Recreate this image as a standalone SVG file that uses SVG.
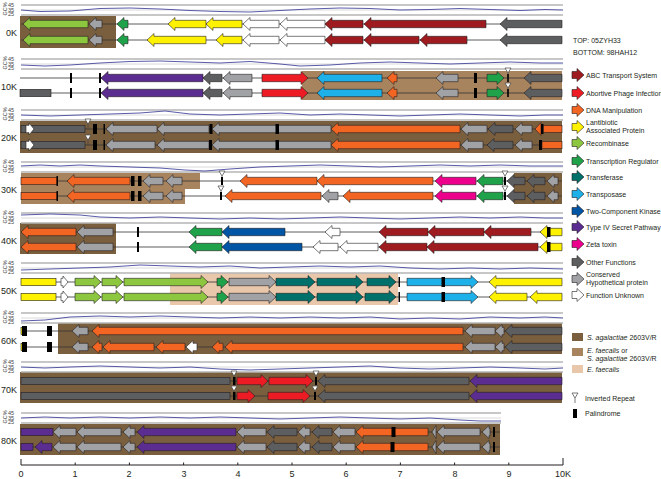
<svg xmlns="http://www.w3.org/2000/svg" xmlns:xlink="http://www.w3.org/1999/xlink" width="661" height="479" viewBox="0 0 661 479">
<style>
.g path,.g rect.gn{stroke:#231f20;stroke-width:.6}
.abc{fill:#9e1b20}.abo{fill:#ed1c24}.dna{fill:#f26522}.lan{fill:#fff200}.rec{fill:#8dc63f}.trr{fill:#1fa24a}.tsf{fill:#00706b}.tsp{fill:#1eb0e8}.tck{fill:#0055a5}.t4s{fill:#5c2d91}.zet{fill:#ec008c}.oth{fill:#5d5e60}.chp{fill:#a0a2a5}.unk{fill:#fff}
.pal{fill:#000}
.bb{stroke:#333;stroke-width:.8}
.gcl{stroke:#b5b5b5;stroke-width:1.3}
.gcm{stroke:#d0d0d0;stroke-width:.8}
.gcw{fill:none;stroke:#2e3192;stroke-width:.8}
.dk{fill:#7a5f3f}.md{fill:#a8845e}.tn{fill:#e8c7ab}
text{font-family:"Liberation Sans",Arial,sans-serif;fill:#231f20}
.rl{font-size:9px;text-anchor:end}
.gt{font-size:5.5px;fill:#444}
.lg{font-size:7px}
.ax{font-size:9px;text-anchor:middle}
</style>
<defs>
<g id="ir"><path d="M-3 -10H3L0 -5ZM0 -5V0" fill="#fff" stroke="#444" stroke-width=".7"/></g>
<g id="gclab"><text class="gt" transform="translate(6.5,-1) rotate(-90)" text-anchor="middle" font-size="6.5">GC%</text><text class="gt" x="8" y="-3.3">45</text><text class="gt" x="8" y="1.7">35</text><text class="gt" x="8" y="6.2">25</text></g>
</defs>
<rect width="661" height="479" fill="#fff"/>

<!-- bands -->
<g id="bands">
<rect class="dk" x="20" y="16" width="96" height="32"/>
<rect class="md" x="302" y="71" width="260" height="29"/>
<rect class="dk" x="20" y="121" width="542" height="32"/>
<path class="md" d="M21 173H200V189H185V204H21Z"/>
<rect class="dk" x="514" y="173" width="48" height="31"/>
<rect class="dk" x="20" y="223" width="96" height="31"/>
<rect class="tn" x="170" y="273" width="228" height="32"/>
<rect class="dk" x="58" y="323" width="504" height="31"/>
<rect class="dk" x="20" y="372" width="542" height="31"/>
<rect class="dk" x="20" y="424" width="480" height="31"/>
</g>

<!-- GC content tracks -->
<g id="gc">
<g transform="translate(0,10)"><line class="gcl" x1="21" y1="-5" x2="563" y2="-5"/><line class="gcm" x1="21" y1="0" x2="563" y2="0"/><line class="gcl" x1="21" y1="5" x2="563" y2="5"/><polyline class="gcw" points="21,0 40,1.5 70,1 100,-1.5 130,-2 160,-1 190,0.5 220,1.5 250,2 280,0.5 310,-1 340,-2 370,-1.5 400,0 430,-0.5 460,-1.5 490,-0.5 520,0.5 545,-0.5 563,0"/><use xlink:href="#gclab"/></g>
<g transform="translate(0,64)"><line class="gcl" x1="21" y1="-5" x2="563" y2="-5"/><line class="gcm" x1="21" y1="0" x2="563" y2="0"/><line class="gcl" x1="21" y1="5" x2="563" y2="5"/><polyline class="gcw" points="21,1 45,2 70,1 100,-1 130,-2.5 160,-3 190,-2 220,-1 250,-2.5 280,0 300,2 330,1 360,-1 390,-2 420,-1 450,0 480,-1 510,-2 540,-1 563,-1"/><use xlink:href="#gclab"/></g>
<g transform="translate(0,115)"><line class="gcl" x1="21" y1="-5" x2="563" y2="-5"/><line class="gcm" x1="21" y1="0" x2="563" y2="0"/><line class="gcl" x1="21" y1="5" x2="563" y2="5"/><polyline class="gcw" points="21,0 50,1 80,0 110,-1 140,-2 165,-4 190,-1 220,0 250,-1 280,-2 310,0 340,-1 370,0 400,1 430,0 460,-1 490,0 520,1 545,0 563,0"/><use xlink:href="#gclab"/></g>
<g transform="translate(0,167)"><line class="gcl" x1="21" y1="-5" x2="563" y2="-5"/><line class="gcm" x1="21" y1="0" x2="563" y2="0"/><line class="gcl" x1="21" y1="5" x2="563" y2="5"/><polyline class="gcw" points="21,-1 40,-2 60,-1 80,-2 100,-1 130,0 160,1 185,3 205,4 230,2 260,0 290,-1 320,-2 350,-1 380,0 410,-1 440,-2 470,-1 500,-2 530,-1 563,-1"/><use xlink:href="#gclab"/></g>
<g transform="translate(0,218)"><line class="gcl" x1="21" y1="-5" x2="563" y2="-5"/><line class="gcm" x1="21" y1="0" x2="563" y2="0"/><line class="gcl" x1="21" y1="5" x2="563" y2="5"/><polyline class="gcw" points="21,-3 50,-4 80,-3 100,-1 130,0 160,-1 190,0 220,1 250,0 280,1 310,0 340,-1 370,0 400,1 430,0 460,-1 490,0 520,-1 545,0 563,0"/><use xlink:href="#gclab"/></g>
<g transform="translate(0,268)"><line class="gcl" x1="21" y1="-5" x2="563" y2="-5"/><line class="gcm" x1="21" y1="0" x2="563" y2="0"/><line class="gcl" x1="21" y1="5" x2="563" y2="5"/><polyline class="gcw" points="21,2 50,1 80,0 110,-1 140,-3 170,-2 200,-1 230,-2 260,0 290,-1 320,-2 350,-1 380,-2 410,0 440,1 470,0 500,1 530,0 563,1"/><use xlink:href="#gclab"/></g>
<g transform="translate(0,318)"><line class="gcl" x1="21" y1="-5" x2="563" y2="-5"/><line class="gcm" x1="21" y1="0" x2="563" y2="0"/><line class="gcl" x1="21" y1="5" x2="563" y2="5"/><polyline class="gcw" points="21,3 45,2 70,-1 100,-2 130,-1 160,-2 190,-1 220,0 250,-1 280,0 310,-1 340,0 370,-1 400,1 430,0 460,1 490,-1 520,0 545,-1 563,0"/><use xlink:href="#gclab"/></g>
<g transform="translate(0,367)"><line class="gcl" x1="21" y1="-5" x2="563" y2="-5"/><line class="gcm" x1="21" y1="0" x2="563" y2="0"/><line class="gcl" x1="21" y1="5" x2="563" y2="5"/><polyline class="gcw" points="21,0 45,1 70,0 100,-1 130,0 160,1 190,0 220,2 250,3 280,2 310,1 340,0 370,-1 400,1 430,2 460,1 490,0 520,1 545,2 563,1"/><use xlink:href="#gclab"/></g>
<g transform="translate(0,418)"><line class="gcl" x1="21" y1="-5" x2="501" y2="-5"/><line class="gcm" x1="21" y1="0" x2="501" y2="0"/><line class="gcl" x1="21" y1="5" x2="501" y2="5"/><polyline class="gcw" points="21,0 45,-1 70,0 100,-1 130,0 160,-1 190,0 220,-1 250,0 280,1 310,0 340,-1 370,0 400,1 430,0 460,2 480,3 501,3"/><use xlink:href="#gclab"/></g>
</g>

<!-- backbones -->
<g id="connectors">
<line class="bb" x1="21" y1="24" x2="562" y2="24"/><line class="bb" x1="21" y1="40" x2="562" y2="40"/>
<line class="bb" x1="20" y1="78" x2="562" y2="78"/><line class="bb" x1="20" y1="93" x2="562" y2="93"/>
<line class="bb" x1="21" y1="129" x2="562" y2="129"/><line class="bb" x1="21" y1="145" x2="562" y2="145"/>
<line class="bb" x1="21" y1="181" x2="562" y2="181"/><line class="bb" x1="21" y1="196" x2="562" y2="196"/>
<line class="bb" x1="21" y1="232" x2="562" y2="232"/><line class="bb" x1="21" y1="247" x2="562" y2="247"/>
<line class="bb" x1="21" y1="282" x2="562" y2="282"/><line class="bb" x1="21" y1="297" x2="562" y2="297"/>
<line class="bb" x1="21" y1="331" x2="562" y2="331"/><line class="bb" x1="21" y1="347" x2="562" y2="347"/>
<line class="bb" x1="21" y1="381" x2="562" y2="381"/><line class="bb" x1="21" y1="396" x2="562" y2="396"/>
<line class="bb" x1="21" y1="432" x2="500" y2="432"/><line class="bb" x1="21" y1="447" x2="500" y2="447"/>
</g>

<!-- Row 0K -->
<g id="row0" class="g">
<path class="rec" d="M23 24l7-6.5v2.8H88v7.4H30v2.8z"/>
<path class="chp" d="M89 24l7-6.5v2.8H102v7.4H96v2.8z"/>
<path class="trr" d="M117 24l7-6.5v2.8H128v7.4H124v2.8z"/>
<path class="lan" d="M168 24l7-6.5v2.8H206v7.4H175v2.8z"/>
<path class="lan" d="M206 24l7-6.5v2.8H242v7.4H213v2.8z"/>
<path class="unk" d="M243 24l7-6.5v2.8H279v7.4H250v2.8z"/>
<path class="unk" d="M280 24l7-6.5v2.8H325v7.4H287v2.8z"/>
<path class="abc" d="M325 24l7-6.5v2.8H363v7.4H332v2.8z"/>
<path class="abc" d="M364 24l7-6.5v2.8H486v7.4H371v2.8z"/>
<path class="oth" d="M500 24l7-6.5v2.8H562v7.4H507v2.8z"/>
<path class="rec" d="M23 40l7-6.5v2.8H88v7.4H30v2.8z"/>
<path class="chp" d="M89 40l7-6.5v2.8H102v7.4H96v2.8z"/>
<path class="trr" d="M117 40l7-6.5v2.8H128v7.4H124v2.8z"/>
<path class="lan" d="M147 40l7-6.5v2.8H206v7.4H154v2.8z"/>
<path class="lan" d="M216 40l7-6.5v2.8H242v7.4H223v2.8z"/>
<path class="unk" d="M243 40l7-6.5v2.8H279v7.4H250v2.8z"/>
<path class="unk" d="M280 40l7-6.5v2.8H325v7.4H287v2.8z"/>
<path class="abc" d="M325 40l7-6.5v2.8H363v7.4H332v2.8z"/>
<path class="abc" d="M364 40l7-6.5v2.8H419v7.4H371v2.8z"/>
<path class="abc" d="M420 40l7-6.5v2.8H467v7.4H427v2.8z"/>
<path class="oth" d="M500 40l7-6.5v2.8H562v7.4H507v2.8z"/>
<text class="rl" x="17" y="36">0K</text>
</g>

<!-- Row 10K -->
<g id="row10" class="g">
<rect class="pal" x="70" y="73" width="2" height="10"/><rect class="pal" x="99" y="73" width="2" height="10"/>
<path class="t4s" d="M101 78l7-6.5v2.8H203v7.4H108v2.8z"/>
<path class="oth" d="M203 78l7-6.5v2.8H222v7.4H210v2.8z"/>
<path class="chp" d="M223 78l7-6.5v2.8H252v7.4H230v2.8z"/>
<path class="abo" d="M308 78l-7-6.5v2.8H262v7.4H301v2.8z"/>
<path class="tsp" d="M317 78l7-6.5v2.8H382v7.4H324v2.8z"/>
<path class="dna" d="M387 78l7-6.5v2.8H397v7.4H394v2.8z"/>
<path class="chp" d="M436 78l7-6.5v2.8H458v7.4H443v2.8z"/>
<rect class="pal" x="474" y="73" width="3" height="10"/>
<path class="trr" d="M504 78l-7-6.5v2.8H487v7.4H497v2.8z"/>
<use xlink:href="#ir" x="508" y="78"/><rect class="pal" x="507.2" y="74" width="1.6" height="8"/>
<path class="oth" d="M524 78l7-6.5v2.8H562v7.4H531v2.8z"/>
<rect class="oth gn" x="20" y="89.3" width="31" height="7.4"/>
<rect class="pal" x="70" y="88" width="2" height="10"/><rect class="pal" x="99" y="88" width="2" height="10"/>
<path class="t4s" d="M101 93l7-6.5v2.8H203v7.4H108v2.8z"/>
<path class="oth" d="M203 93l7-6.5v2.8H222v7.4H210v2.8z"/>
<path class="chp" d="M223 93l7-6.5v2.8H252v7.4H230v2.8z"/>
<path class="abo" d="M308 93l-7-6.5v2.8H262v7.4H301v2.8z"/>
<path class="tsp" d="M317 93l7-6.5v2.8H382v7.4H324v2.8z"/>
<path class="dna" d="M387 93l7-6.5v2.8H397v7.4H394v2.8z"/>
<path class="chp" d="M436 93l7-6.5v2.8H458v7.4H443v2.8z"/>
<rect class="pal" x="474" y="88" width="3" height="10"/>
<path class="trr" d="M504 93l-7-6.5v2.8H487v7.4H497v2.8z"/>
<use xlink:href="#ir" x="508" y="93"/><rect class="pal" x="507.2" y="89" width="1.6" height="8"/>
<path class="oth" d="M524 93l7-6.5v2.8H562v7.4H531v2.8z"/>
<text class="rl" x="17" y="90">10K</text>
</g>

<!-- Row 20K -->
<g id="row20" class="g">
<rect class="oth gn" x="21" y="125.3" width="64" height="7.4"/>
<path class="unk" d="M34 129l-5-6v2.3H26v7.4H29v2.3z"/>
<use xlink:href="#ir" x="88" y="129"/>
<rect class="pal" x="93" y="124" width="4" height="10"/><rect class="pal" x="103.5" y="124" width="1.5" height="10"/>
<path class="chp" d="M106 129l7-6.5v2.8H157v7.4H113v2.8z"/>
<path class="chp" d="M157 129l7-6.5v2.8H209v7.4H164v2.8z"/>
<rect class="pal" x="209.5" y="124" width="3" height="10"/>
<path class="chp" d="M212 129l7-6.5v2.8H331v7.4H219v2.8z"/>
<rect class="pal" x="275.5" y="124" width="3.5" height="10"/>
<path class="dna" d="M331 129l7-6.5v2.8H460v7.4H338v2.8z"/>
<path class="chp" d="M461 129l7-6.5v2.8H487v7.4H468v2.8z"/>
<path class="oth" d="M488 129l7-6.5v2.8H513v7.4H495v2.8z"/>
<path class="chp" d="M515 129l7-6.5v2.8H532v7.4H522v2.8z"/>
<path class="dna" d="M535 129l6-6.5v13z"/>
<rect class="pal" x="541" y="124" width="2.5" height="10"/>
<rect class="dna gn" x="543.5" y="125.3" width="18.5" height="7.4"/>
<rect class="oth gn" x="21" y="141.3" width="64" height="7.4"/>
<path class="unk" d="M34 145l-5-6v2.3H26v7.4H29v2.3z"/>
<use xlink:href="#ir" x="88" y="145"/>
<rect class="pal" x="93" y="140" width="4" height="10"/><rect class="pal" x="103.5" y="140" width="1.5" height="10"/>
<path class="chp" d="M106 145l7-6.5v2.8H155v7.4H113v2.8z"/>
<path class="chp" d="M157 145l7-6.5v2.8H209v7.4H164v2.8z"/>
<rect class="pal" x="209" y="140" width="3" height="10"/>
<path class="chp" d="M212 145l7-6.5v2.8H331v7.4H219v2.8z"/>
<rect class="pal" x="275.5" y="140" width="3.5" height="10"/>
<path class="dna" d="M331 145l7-6.5v2.8H460v7.4H338v2.8z"/>
<path class="chp" d="M461 145l7-6.5v2.8H483v7.4H468v2.8z"/>
<path class="oth" d="M487 145l7-6.5v2.8H513v7.4H494v2.8z"/>
<path class="chp" d="M515 145l7-6.5v2.8H532v7.4H522v2.8z"/>
<rect class="pal" x="539" y="140" width="3" height="10"/>
<rect class="dna gn" x="542" y="141.3" width="20" height="7.4"/>
<text class="rl" x="17" y="141">20K</text>
</g>

<!-- Row 30K -->
<g id="row30" class="g">
<rect class="dna gn" x="21" y="177.3" width="36" height="7.4"/>
<rect class="pal" x="56.5" y="176" width="1.5" height="10"/>
<path class="dna" d="M67 181l7-6.5v2.8H130v7.4H74v2.8z"/>
<rect class="pal" x="131" y="176" width="3.5" height="10"/><rect class="pal" x="138" y="176" width="3.5" height="10"/>
<path class="chp" d="M143 181l7-6.5v2.8H163v7.4H150v2.8z"/>
<path class="chp" d="M166 181l7-6.5v2.8H182v7.4H173v2.8z"/>
<use xlink:href="#ir" x="222" y="181"/><rect class="pal" x="221" y="177" width="2" height="8"/>
<path class="dna" d="M240 181l7-6.5v2.8H317v7.4H247v2.8z"/>
<path class="dna" d="M317 181l7-6.5v2.8H433v7.4H324v2.8z"/>
<path class="zet" d="M435 181l7-6.5v2.8H476v7.4H442v2.8z"/>
<path class="trr" d="M477 181l7-6.5v2.8H503v7.4H484v2.8z"/>
<use xlink:href="#ir" x="505" y="181"/><rect class="pal" x="504" y="177" width="2" height="8"/>
<path class="oth" d="M507 181l7-6.5v2.8H525v7.4H514v2.8z"/>
<path class="oth" d="M527 181l7-6.5v2.8H545v7.4H534v2.8z"/>
<path class="chp" d="M547 181l7-6.5v2.8H558v7.4H554v2.8z"/>
<rect class="dna gn" x="21" y="192.3" width="36" height="7.4"/>
<rect class="pal" x="56.5" y="191" width="1.5" height="10"/>
<path class="dna" d="M67 196l7-6.5v2.8H130v7.4H74v2.8z"/>
<rect class="pal" x="131" y="191" width="3.5" height="10"/><rect class="pal" x="138" y="191" width="3.5" height="10"/>
<path class="chp" d="M143 196l7-6.5v2.8H163v7.4H150v2.8z"/>
<path class="chp" d="M166 196l7-6.5v2.8H182v7.4H173v2.8z"/>
<use xlink:href="#ir" x="221" y="196"/><rect class="pal" x="220" y="192" width="2" height="8"/>
<path class="dna" d="M225 196l7-6.5v2.8H321v7.4H232v2.8z"/>
<path class="chp" d="M322 196l7-6.5v2.8H338v7.4H329v2.8z"/>
<path class="dna" d="M343 196l7-6.5v2.8H433v7.4H350v2.8z"/>
<path class="zet" d="M435 196l7-6.5v2.8H476v7.4H442v2.8z"/>
<path class="trr" d="M477 196l7-6.5v2.8H503v7.4H484v2.8z"/>
<use xlink:href="#ir" x="505" y="196"/><rect class="pal" x="504" y="192" width="2" height="8"/>
<path class="oth" d="M507 196l7-6.5v2.8H525v7.4H514v2.8z"/>
<path class="oth" d="M527 196l7-6.5v2.8H545v7.4H534v2.8z"/>
<path class="chp" d="M547 196l7-6.5v2.8H558v7.4H554v2.8z"/>
<text class="rl" x="17" y="193">30K</text>
</g>

<!-- Row 40K -->
<g id="row40" class="g">
<path class="dna" d="M21 232l7-6.5v2.8H76v7.4H28v2.8z"/>
<path class="chp" d="M77 232l7-6.5v2.8H113v7.4H84v2.8z"/>
<rect class="pal" x="137" y="227" width="2" height="10"/>
<path class="trr" d="M189 232l7-6.5v2.8H222v7.4H196v2.8z"/>
<path class="tck" d="M222 232l7-6.5v2.8H285v7.4H229v2.8z"/>
<path class="unk" d="M325 232l7-6.5v2.8H340v7.4H332v2.8z"/>
<path class="abc" d="M379 232l7-6.5v2.8H428v7.4H386v2.8z"/>
<path class="abc" d="M428 232l7-6.5v2.8H484v7.4H435v2.8z"/>
<path class="abc" d="M484 232l7-6.5v2.8H531v7.4H491v2.8z"/>
<path class="lan" d="M540 232l7-6.5v2.8H562v7.4H547v2.8z"/>
<rect class="pal" x="547" y="227" width="3.5" height="10"/>
<path class="dna" d="M21 247l7-6.5v2.8H76v7.4H28v2.8z"/>
<path class="chp" d="M77 247l7-6.5v2.8H113v7.4H84v2.8z"/>
<rect class="pal" x="137" y="242" width="2" height="10"/>
<path class="trr" d="M189 247l7-6.5v2.8H222v7.4H196v2.8z"/>
<path class="tck" d="M222 247l7-6.5v2.8H302v7.4H229v2.8z"/>
<path class="unk" d="M313 247l7-6.5v2.8H338v7.4H320v2.8z"/>
<path class="unk" d="M340 247l7-6.5v2.8H378v7.4H347v2.8z"/>
<path class="abc" d="M379 247l7-6.5v2.8H427v7.4H386v2.8z"/>
<path class="abc" d="M427 247l7-6.5v2.8H538v7.4H434v2.8z"/>
<path class="lan" d="M540 247l7-6.5v2.8H562v7.4H547v2.8z"/>
<rect class="pal" x="547" y="242" width="3.5" height="10"/>
<text class="rl" x="17" y="244">40K</text>
</g>

<!-- Row 50K -->
<g id="row50" class="g">
<rect class="lan gn" x="21" y="278.3" width="35" height="7.4"/>
<path class="unk" d="M68 282l-5-6v2.3H61v7.4H63v2.3z"/>
<path class="rec" d="M101 282l-7-6.5v2.8H75v7.4H94v2.8z"/>
<path class="rec" d="M123 282l-7-6.5v2.8H102v7.4H116v2.8z"/>
<path class="rec" d="M208 282l-7-6.5v2.8H124v7.4H201v2.8z"/>
<path class="trr" d="M228 282l-7-6.5v2.8H217v7.4H221v2.8z"/>
<path class="chp" d="M276 282l-7-6.5v2.8H229v7.4H269v2.8z"/>
<path class="tsf" d="M315 282l-7-6.5v2.8H276v7.4H308v2.8z"/>
<path class="tsf" d="M363 282l-7-6.5v2.8H317v7.4H356v2.8z"/>
<path class="tsf" d="M396 282l-7-6.5v2.8H367v7.4H389v2.8z"/>
<rect class="pal" x="398.5" y="277" width="1.5" height="10"/>
<path class="tsp" d="M478 282l-7-6.5v2.8H407v7.4H471v2.8z"/>
<rect class="pal" x="441.5" y="277" width="3.5" height="10"/>
<path class="lan" d="M489 282l7-6.5v2.8H562v7.4H496v2.8z"/>
<rect class="lan gn" x="21" y="293.3" width="35" height="7.4"/>
<path class="unk" d="M68 297l-5-6v2.3H61v7.4H63v2.3z"/>
<path class="rec" d="M101 297l-7-6.5v2.8H75v7.4H94v2.8z"/>
<path class="rec" d="M123 297l-7-6.5v2.8H102v7.4H116v2.8z"/>
<path class="rec" d="M208 297l-7-6.5v2.8H124v7.4H201v2.8z"/>
<path class="trr" d="M228 297l-7-6.5v2.8H217v7.4H221v2.8z"/>
<path class="chp" d="M276 297l-7-6.5v2.8H229v7.4H269v2.8z"/>
<path class="tsf" d="M315 297l-7-6.5v2.8H276v7.4H308v2.8z"/>
<path class="tsf" d="M363 297l-7-6.5v2.8H317v7.4H356v2.8z"/>
<path class="tsf" d="M396 297l-7-6.5v2.8H365v7.4H389v2.8z"/>
<rect class="pal" x="398.5" y="292" width="1.5" height="10"/>
<path class="tsp" d="M478 297l-7-6.5v2.8H407v7.4H471v2.8z"/>
<rect class="pal" x="441.5" y="292" width="3.5" height="10"/>
<path class="lan" d="M489 297l7-6.5v2.8H527v7.4H496v2.8z"/>
<path class="lan" d="M530 297l7-6.5v2.8H562v7.4H537v2.8z"/>
<text class="rl" x="17" y="294">50K</text>
</g>

<!-- Row 60K -->
<g id="row60" class="g">
<rect class="lan gn" x="21" y="327.3" width="2" height="7.4"/>
<rect class="pal" x="22" y="326" width="5" height="10"/><rect class="pal" x="47" y="326" width="5" height="10"/>
<path class="chp" d="M72 331l7-6.5v2.8H88v7.4H79v2.8z"/>
<path class="dna" d="M92 331l7-6.5v2.8H463v7.4H99v2.8z"/>
<path class="chp" d="M465 331l7-6.5v2.8H495v7.4H472v2.8z"/>
<path class="chp" d="M495 331l7-6.5v2.8H504v7.4H502v2.8z"/>
<path class="oth" d="M505 331l7-6.5v2.8H562v7.4H512v2.8z"/>
<rect class="lan gn" x="21" y="343.3" width="2" height="7.4"/>
<rect class="pal" x="22" y="342" width="5" height="10"/><rect class="pal" x="47" y="342" width="5" height="10"/>
<path class="chp" d="M72 347l7-6.5v2.8H88v7.4H79v2.8z"/>
<path class="dna" d="M92 347l7-6.5v2.8H102v7.4H99v2.8z"/>
<path class="dna" d="M103 347l7-6.5v2.8H154v7.4H110v2.8z"/>
<path class="dna" d="M156 347l7-6.5v2.8H185v7.4H163v2.8z"/>
<path class="unk" d="M186 347l7-6.5v2.8H197v7.4H193v2.8z"/>
<path class="dna" d="M212 347l7-6.5v2.8H223v7.4H219v2.8z"/>
<path class="dna" d="M225 347l7-6.5v2.8H463v7.4H232v2.8z"/>
<path class="chp" d="M465 347l7-6.5v2.8H495v7.4H472v2.8z"/>
<path class="chp" d="M495 347l7-6.5v2.8H504v7.4H502v2.8z"/>
<path class="oth" d="M505 347l7-6.5v2.8H562v7.4H512v2.8z"/>
<text class="rl" x="17" y="344">60K</text>
</g>

<!-- Row 70K -->
<g id="row70" class="g">
<rect class="oth gn" x="21" y="377.3" width="209" height="7.4"/>
<use xlink:href="#ir" x="234" y="381"/><rect class="pal" x="233" y="377" width="2.5" height="8"/>
<path class="abo" d="M268 381l-7-6.5v2.8H237v7.4H261v2.8z"/>
<path class="abo" d="M313 381l-7-6.5v2.8H269v7.4H306v2.8z"/>
<use xlink:href="#ir" x="316" y="381"/><rect class="pal" x="315" y="377" width="2" height="8"/>
<path class="oth" d="M318 381l7-6.5v2.8H469v7.4H325v2.8z"/>
<path class="t4s" d="M470 381l7-6.5v2.8H562v7.4H477v2.8z"/>
<rect class="oth gn" x="21" y="392.3" width="209" height="7.4"/>
<use xlink:href="#ir" x="234" y="396"/><rect class="pal" x="233" y="392" width="2.5" height="8"/>
<path class="abo" d="M255 396l-7-6.5v2.8H237v7.4H248v2.8z"/>
<path class="abo" d="M310 396l-7-6.5v2.8H268v7.4H303v2.8z"/>
<use xlink:href="#ir" x="315" y="396"/><rect class="pal" x="314" y="392" width="2" height="8"/>
<path class="oth" d="M318 396l7-6.5v2.8H469v7.4H325v2.8z"/>
<path class="t4s" d="M470 396l7-6.5v2.8H562v7.4H477v2.8z"/>
<text class="rl" x="17" y="393">70K</text>
</g>

<!-- Row 80K -->
<g id="row80" class="g">
<rect class="t4s gn" x="21" y="428.3" width="32" height="7.4"/>
<path class="chp" d="M53 432l7-6.5v2.8H76v7.4H60v2.8z"/>
<path class="chp" d="M77 432l7-6.5v2.8H121v7.4H84v2.8z"/>
<path class="chp" d="M123 432l7-6.5v2.8H135v7.4H130v2.8z"/>
<path class="t4s" d="M137 432l7-6.5v2.8H236v7.4H144v2.8z"/>
<path class="chp" d="M237 432l7-6.5v2.8H266v7.4H244v2.8z"/>
<path class="oth" d="M267 432l7-6.5v2.8H297v7.4H274v2.8z"/>
<path class="chp" d="M298 432l7-6.5v2.8H310v7.4H305v2.8z"/>
<path class="oth" d="M312 432l7-6.5v2.8H332v7.4H319v2.8z"/>
<path class="chp" d="M333 432l7-6.5v2.8H355v7.4H340v2.8z"/>
<path class="dna" d="M356 432l7-6.5v2.8H428v7.4H363v2.8z"/>
<rect class="pal" x="391.5" y="427" width="4" height="10"/>
<path class="chp" d="M432 432l4-6.5v13z"/>
<path class="chp" d="M437 432l7-6.5v2.8H480v7.4H444v2.8z"/>
<path class="chp" d="M482 432l7-6.5v2.8H490v7.4H489v2.8z"/>
<rect class="pal" x="493" y="427" width="2" height="10"/>
<rect class="t4s gn" x="21" y="443.3" width="12" height="7.4"/>
<path class="t4s" d="M35 447l7-6.5v2.8H52v7.4H42v2.8z"/>
<path class="chp" d="M53 447l7-6.5v2.8H76v7.4H60v2.8z"/>
<path class="chp" d="M77 447l7-6.5v2.8H121v7.4H84v2.8z"/>
<path class="chp" d="M123 447l7-6.5v2.8H135v7.4H130v2.8z"/>
<path class="t4s" d="M137 447l7-6.5v2.8H236v7.4H144v2.8z"/>
<path class="chp" d="M237 447l7-6.5v2.8H266v7.4H244v2.8z"/>
<path class="oth" d="M267 447l7-6.5v2.8H297v7.4H274v2.8z"/>
<path class="chp" d="M298 447l7-6.5v2.8H310v7.4H305v2.8z"/>
<path class="oth" d="M312 447l7-6.5v2.8H332v7.4H319v2.8z"/>
<path class="chp" d="M333 447l7-6.5v2.8H355v7.4H340v2.8z"/>
<path class="dna" d="M356 447l7-6.5v2.8H428v7.4H363v2.8z"/>
<rect class="pal" x="390.5" y="442" width="4" height="10"/>
<path class="chp" d="M432 447l4-6.5v13z"/>
<path class="chp" d="M437 447l7-6.5v2.8H480v7.4H444v2.8z"/>
<path class="chp" d="M482 447l7-6.5v2.8H490v7.4H489v2.8z"/>
<rect class="pal" x="493" y="442" width="2" height="10"/>
<text class="rl" x="17" y="444">80K</text>
</g>

<!-- axis -->
<g id="axis">
<line x1="21" y1="465" x2="563" y2="465" stroke="#231f20" stroke-width="1"/>
<path d="M21 459V465M75.2 462.5V465M129.4 462.5V465M183.6 462.5V465M237.8 462.5V465M292 462.5V465M346.2 462.5V465M400.4 462.5V465M454.6 462.5V465M508.8 462.5V465M563 458V465" stroke="#231f20" stroke-width="1" fill="none"/>
<text class="ax" x="21" y="477">0</text><text class="ax" x="75" y="477">1</text><text class="ax" x="129" y="477">2</text><text class="ax" x="184" y="477">3</text><text class="ax" x="238" y="477">4</text><text class="ax" x="292" y="477">5</text><text class="ax" x="346" y="477">6</text><text class="ax" x="400" y="477">7</text><text class="ax" x="455" y="477">8</text><text class="ax" x="509" y="477">9</text><text class="ax" x="563" y="477">10K</text>
</g>

<!-- strain labels -->
<g id="strains">
<text class="lg" x="573" y="43">TOP: 05ZYH33</text>
<text class="lg" x="573" y="55">BOTTOM: 98HAH12</text>
</g>

<!-- legend -->
<g id="legend" class="g">
<g id="lg-abc"><path class="abc" d="M584 75l-7-6.5v3H572v7H577v3z"/><text class="lg" x="586" y="77.5">ABC Transport System</text></g>
<g id="lg-abo"><path class="abo" d="M584 93l-7-6.5v3H572v7H577v3z"/><text class="lg" x="586" y="95.5">Abortive Phage Infection</text></g>
<g id="lg-dna"><path class="dna" d="M584 110l-7-6.5v3H572v7H577v3z"/><text class="lg" x="586" y="112.5">DNA Manipulation</text></g>
<g id="lg-lan"><path class="lan" d="M584 127l-7-6.5v3H572v7H577v3z"/><text class="lg" x="586" y="124.5">Lantibiotic</text><text class="lg" x="586" y="132.5">Associated Protein</text></g>
<g id="lg-rec"><path class="rec" d="M584 143l-7-6.5v3H572v7H577v3z"/><text class="lg" x="586" y="145.5">Recombinase</text></g>
<g id="lg-trr"><path class="trr" d="M584 161l-7-6.5v3H572v7H577v3z"/><text class="lg" x="586" y="163.5">Transcription Regulator</text></g>
<g id="lg-tsf"><path class="tsf" d="M584 177l-7-6.5v3H572v7H577v3z"/><text class="lg" x="586" y="179.5">Transferase</text></g>
<g id="lg-tsp"><path class="tsp" d="M584 194l-7-6.5v3H572v7H577v3z"/><text class="lg" x="586" y="196.5">Transposase</text></g>
<g id="lg-tck"><path class="tck" d="M584 211l-7-6.5v3H572v7H577v3z"/><text class="lg" x="586" y="213.5">Two-Component Kinase</text></g>
<g id="lg-t4s"><path class="t4s" d="M584 227l-7-6.5v3H572v7H577v3z"/><text class="lg" x="586" y="229.5">Type IV Secret Pathway</text></g>
<g id="lg-zet"><path class="zet" d="M584 244l-7-6.5v3H572v7H577v3z"/><text class="lg" x="586" y="246.5">Zeta toxin</text></g>
<g id="lg-oth"><path class="oth" d="M584 262l-7-6.5v3H572v7H577v3z"/><text class="lg" x="586" y="264.5">Other Functions</text></g>
<g id="lg-chp"><path class="chp" d="M584 279l-7-6.5v3H572v7H577v3z"/><text class="lg" x="586" y="276.5">Conserved</text><text class="lg" x="586" y="284.5">Hypothetical protein</text></g>
<g id="lg-unk"><path class="unk" d="M584 295l-7-6.5v3H572v7H577v3z"/><text class="lg" x="586" y="297.5">Function Unknown</text></g>
<g id="lg-sag"><rect class="dk" x="572" y="333" width="11" height="8"/><text class="lg" x="587" y="339.5"><tspan font-style="italic">S. agalactiae</tspan> 2603V/R</text></g>
<g id="lg-efs"><rect class="md" x="572" y="348" width="11" height="8"/><text class="lg" x="587" y="352.5"><tspan font-style="italic">E. faecalis</tspan> or</text><text class="lg" x="587" y="360.5"><tspan font-style="italic">S. agalactiae</tspan> 2603V/R</text></g>
<g id="lg-ef"><rect class="tn" x="572" y="365" width="11" height="8"/><text class="lg" x="587" y="371.5" font-style="italic">E. faecalis</text></g>
<g id="lg-ir"><use xlink:href="#ir" x="575" y="403"/><text class="lg" x="585" y="400.5">Inverted Repeat</text></g>
<g id="lg-pal"><rect class="pal" x="573" y="409" width="4" height="9"/><text class="lg" x="585" y="415.5">Palindrome</text></g>
</g>
</svg>
